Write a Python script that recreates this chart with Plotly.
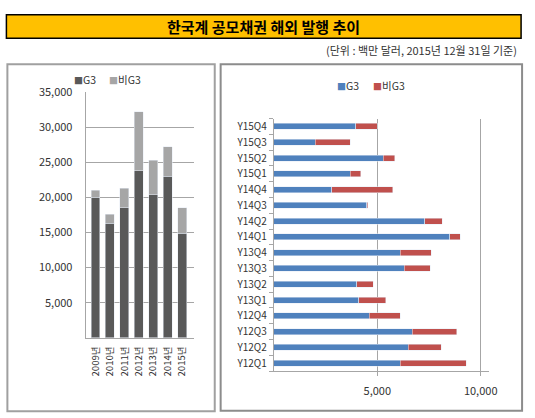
import plotly.graph_objects as go

# ---- data ----
years = ["2009년", "2010년", "2011년", "2012년", "2013년", "2014년", "2015년"]
g3_year = [20000, 16300, 18500, 23800, 20400, 23000, 14900]
nong3_year = [1000, 1300, 2800, 8400, 4900, 4200, 3600]

quarters = ["Y12Q1", "Y12Q2", "Y12Q3", "Y12Q4",
            "Y13Q1", "Y13Q2", "Y13Q3", "Y13Q4",
            "Y14Q1", "Y14Q2", "Y14Q3", "Y14Q4",
            "Y15Q1", "Y15Q2", "Y15Q3", "Y15Q4"]
g3_q = [6100, 6500, 6700, 4600, 4100, 4000, 6300, 6100,
        8500, 7300, 4500, 2800, 3700, 5300, 2000, 3950]
nong3_q = [3200, 1600, 2150, 1500, 1300, 800, 1250, 1500,
           500, 850, 50, 2950, 500, 550, 1700, 1050]

left_ticks = [5000, 10000, 15000, 20000, 25000, 30000, 35000]
right_ticks = [5000, 10000]

series_names = ["G3", "비G3"]
left_colors = ["#595959", "#A6A6A6"]
right_colors = ["#4F81BD", "#C0504D"]

title_text = "한국계 공모채권 해외 발행 추이"
subtitle_text = "(단위 : 백만 달러, 2015년 12월 31일 기준)"

W, H = 535, 418
FONT = "Noto Sans CJK KR"


def px(x):
    return x / W


def py(y):
    return 1 - y / H


fig = go.Figure()
fig.add_trace(go.Bar(x=years, y=g3_year, name=series_names[0], marker_color=left_colors[0],
                     xaxis="x", yaxis="y", width=0.62, showlegend=False))
fig.add_trace(go.Bar(x=years, y=nong3_year, name=series_names[1], marker_color=left_colors[1],
                     xaxis="x", yaxis="y", width=0.62, showlegend=False))
fig.add_trace(go.Bar(y=quarters, x=g3_q, name=series_names[0], orientation="h",
                     marker_color=right_colors[0], xaxis="x2", yaxis="y2", width=0.38,
                     showlegend=False))
fig.add_trace(go.Bar(y=quarters, x=nong3_q, name=series_names[1], orientation="h",
                     marker_color=right_colors[1], xaxis="x2", yaxis="y2", width=0.38,
                     showlegend=False))

shapes = [
    # title bar
    dict(type="rect", xref="paper", yref="paper", x0=px(6.5), x1=px(529), y0=py(6), y1=py(30),
         fillcolor="#FFC000", line=dict(color="#000000", width=1.5), layer="below"),
    # panels
    dict(type="rect", xref="paper", yref="paper", x0=px(7.5), x1=px(218), y0=py(56.5), y1=py(411),
         fillcolor="rgba(0,0,0,0)", line=dict(color="#a0a0a0", width=2)),
    dict(type="rect", xref="paper", yref="paper", x0=px(224), x1=px(530), y0=py(56.5), y1=py(410.5),
         fillcolor="rgba(0,0,0,0)", line=dict(color="#8c8c8c", width=2)),
]

annotations = [
    dict(text=f"<b>{title_text}</b>", x=px(268), y=py(18), xref="paper", yref="paper",
         showarrow=False, xanchor="center", yanchor="middle", font=dict(size=15, color="#000000")),
    dict(text=subtitle_text, x=px(527), y=py(42), xref="paper", yref="paper",
         showarrow=False, xanchor="right", yanchor="middle", font=dict(size=11, color="#333333")),
]


def legend_item(label, color, x, y):
    return dict(text=f'<span style="color:{color};font-size:9px">■</span>{label}',
                x=px(x), y=py(y), xref="paper", yref="paper", showarrow=False,
                xanchor="left", yanchor="middle", font=dict(size=10.5, color="#333333"))


annotations += [
    legend_item(series_names[0], left_colors[0], 73, 72.5),
    legend_item(series_names[1], left_colors[1], 109, 72.5),
    legend_item(series_names[0], right_colors[0], 340, 78),
    legend_item(series_names[1], right_colors[1], 377, 78),
]

fig.update_layout(
    width=W, height=H, autosize=False,
    margin=dict(l=0, r=0, t=0, b=0),
    paper_bgcolor="white", plot_bgcolor="white",
    font=dict(family=FONT, color="#333333"),
    barmode="stack",
    shapes=shapes,
    annotations=annotations,
    xaxis=dict(domain=[px(87), px(197)], anchor="y", type="category",
               range=[-0.68, 6.82], tickangle=-90, tickfont=dict(size=9.5),
               showline=True, linecolor="#a6a6a6", ticks="", ticklabelstandoff=4,
               showgrid=False, zeroline=False),
    yaxis=dict(domain=[py(336), py(85)], anchor="x", range=[0, 35000],
               tickvals=left_ticks, ticktext=[f"{v:,}" for v in left_ticks],
               tickfont=dict(size=11), showgrid=True, gridcolor="#a6a6a6", gridwidth=1,
               showline=True, linecolor="#a6a6a6", ticks="", ticklabelstandoff=10,
               zeroline=False),
    xaxis2=dict(domain=[px(278), px(496.4)], anchor="y2", range=[0, 10400],
                tickvals=right_ticks, ticktext=[f"{v:,}" for v in right_ticks],
                tickfont=dict(size=11), showgrid=True, gridcolor="#a6a6a6",
                showline=True, linecolor="#a6a6a6", ticks="outside", ticklen=4,
                tickcolor="#a6a6a6", ticklabelstandoff=6, zeroline=False),
    yaxis2=dict(domain=[py(370), py(112)], anchor="x2", type="category",
                categoryorder="array", categoryarray=quarters,
                tickfont=dict(size=10), showline=True, linecolor="#a6a6a6",
                ticks="outside", ticklen=4, tickcolor="#a6a6a6", tickson="boundaries",
                ticklabelstandoff=4, showgrid=False, zeroline=False),
)

fig.write_html(
    "out.html",
    config={"displayModeBar": False},
    post_script="document.body.style.margin='0';document.body.style.overflow='hidden';",
)
